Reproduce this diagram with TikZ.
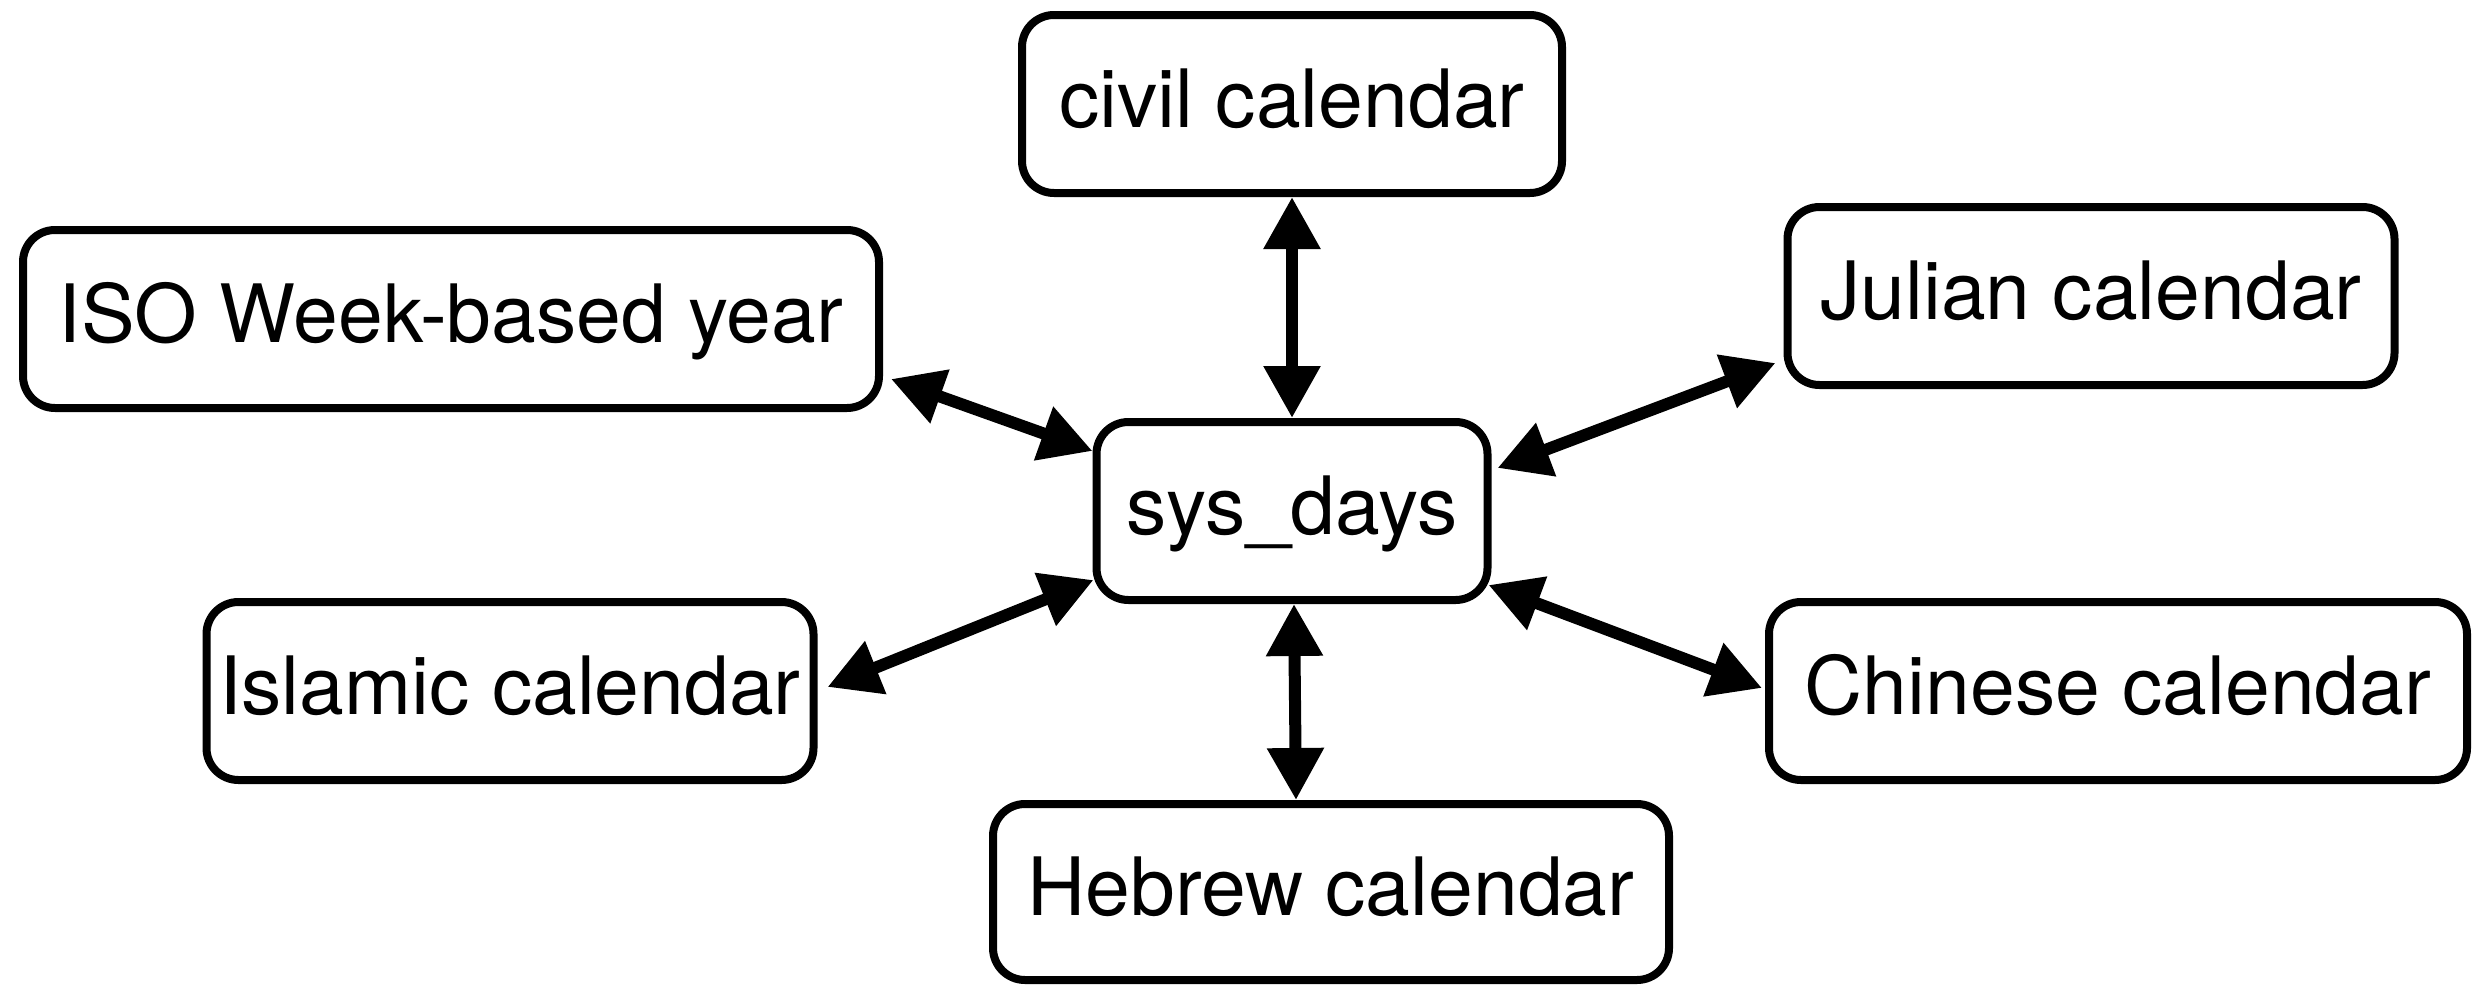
\documentclass[tikz,border=0pt]{standalone}
\usepackage{fontspec}
\setmainfont{TeX Gyre Heros}
\usetikzlibrary{arrows.meta,calc}
\begin{document}
\begin{tikzpicture}[x=1pt,y=-1pt,
  cal/.style={draw,line width=8pt,rounded corners=32pt,inner sep=0pt,
    minimum height=178pt,text height=58pt,text depth=12pt,
    font=\fontsize{80.5}{92}\selectfont},
  link/.style={line width=12pt,
    {Triangle[length=52pt,width=54pt]}-{Triangle[length=52pt,width=54pt]}}]
\useasboundingbox (0,0) rectangle (2484,985);

% calendar boxes
\node[cal,minimum width=540pt] (civil)   at (1292,104) {civil calendar};
\node[cal,minimum width=856pt] (iso)     at (451,319)  {ISO Week-based year};
\node[cal,minimum width=607pt] (julian)  at (2091,296) {Julian calendar};
\node[cal,minimum width=391pt] (sys)     at (1292,511) {sys\_days};
\node[cal,minimum width=607pt] (islamic) at (510,691)  {Islamic calendar};
\node[cal,minimum width=698pt] (chinese) at (2118,691) {Chinese calendar};
\node[cal,minimum width=676pt,minimum height=176pt] (hebrew) at (1331,892) {Hebrew calendar};

% conversions through sys_days
\draw[link] (civil.south) -- (sys.north);
\draw[link] ($(iso.east)+(8,60)$) -- ($(sys.west)+(0,-60)$);
\draw[link] ($(julian.west)+(-8,67)$) -- ($(sys.east)+(6,-43)$);
\draw[link] ($(islamic.east)+(10,-4)$) -- ($(sys.west)+(1,69)$);
\draw[link] ($(chinese.west)+(-3,-3)$) -- ($(sys.east)+(-3,74)$);
\draw[link] ($(sys.south)+(2,0)$) -- ($(hebrew.north)+(-35,0)$);
\end{tikzpicture}
\end{document}
